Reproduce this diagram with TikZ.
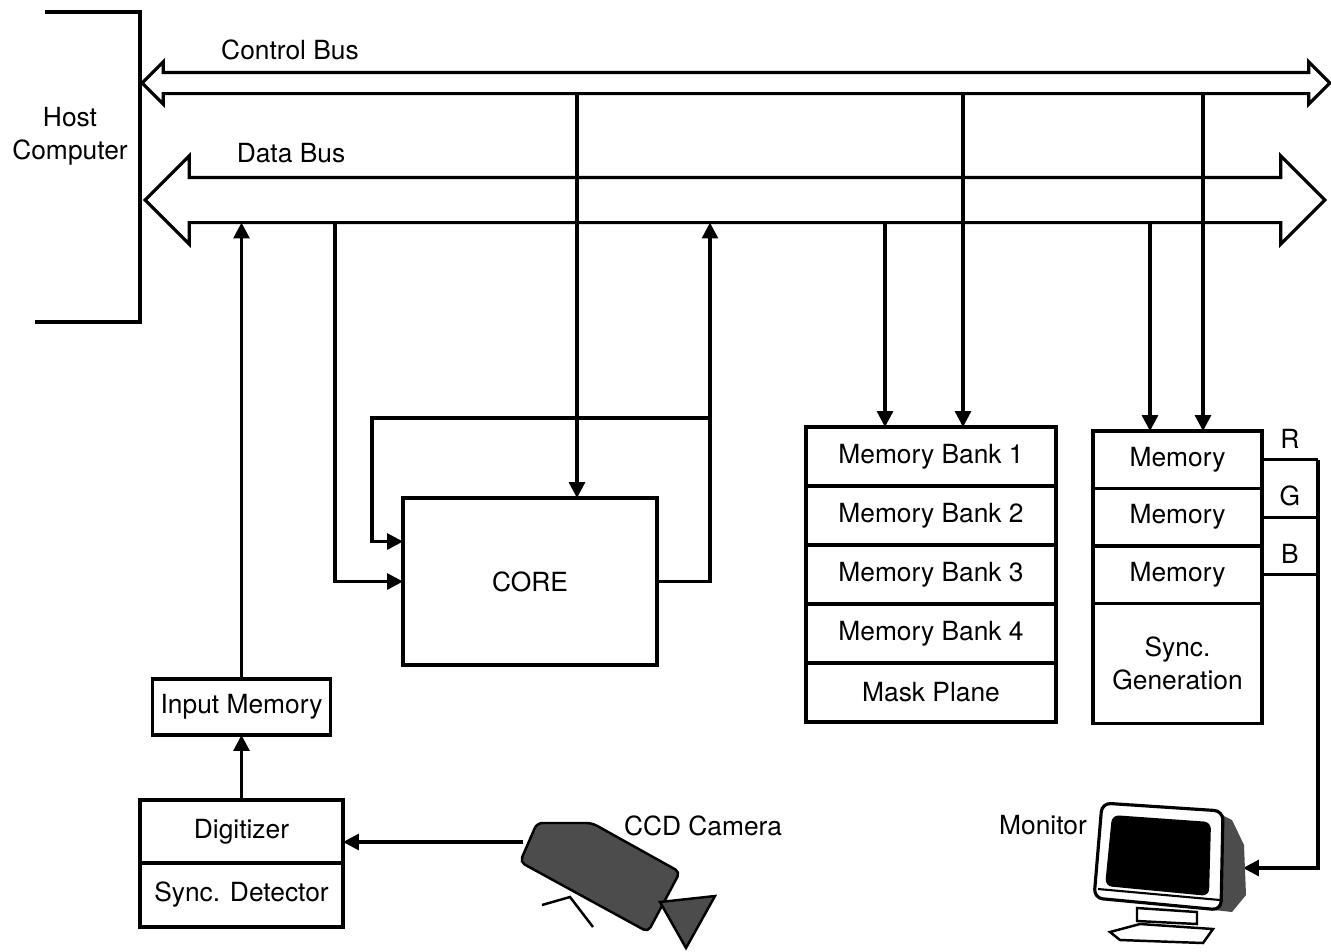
\documentclass[tikz,border=0pt]{standalone}
\usepackage{fontspec}
\setmainfont{TeX Gyre Heros}
\usetikzlibrary{shapes.arrows, arrows.meta, positioning, calc}

\begin{document}
\begin{tikzpicture}[
  x=0.02cm, y=-0.02cm,
  line width=1.8pt,
  font=\fontsize{15}{19}\selectfont,
  box/.style  = {draw, line width=1.8pt, fill=white, inner sep=0pt,
                 outer sep=0pt, align=center},
  bank/.style = {box, minimum width=5cm, minimum height=1.18cm},
  vid/.style  = {box, minimum width=3.38cm, minimum height=1.15cm},
  bus/.style  = {double arrow, draw, fill=white, line width=1.8pt,
                 inner xsep=0pt, outer sep=0pt, double arrow tip angle=90},
  arr/.style  = {-{Triangle[length=9pt, width=9pt]}, line width=1.8pt},
  lbl/.style  = {inner sep=1pt, align=center},
]
\useasboundingbox (0,0) rectangle (1331,951);

% Host side and the two buses
\draw (45,12) -| (140,322) -- (35,322);
\node[lbl] (host) at (70,136) {Host\\Computer};
\node[bus, minimum height=23.76cm, inner ysep=0.18cm,
      double arrow head extend=0.21cm] (cbus) at (736,83) {};
\node[bus, minimum height=23.6cm, inner ysep=0.42cm,
      double arrow head extend=0.43cm] (dbus) at (735,200) {};
\node[lbl] (cbuslbl) at (290,50) {Control Bus};
\node[lbl] (dbuslbl) at (291,153) {Data Bus};

% Processor
\node[box, minimum width=5.08cm, minimum height=3.34cm] (core) at (530,581.5) {CORE};

% Frame memory
\node[bank] (bank1) at (931,456.5) {Memory Bank 1};
\node[bank, below=0pt of bank1] (bank2) {Memory Bank 2};
\node[bank, below=0pt of bank2] (bank3) {Memory Bank 3};
\node[bank, below=0pt of bank3] (bank4) {Memory Bank 4};
\node[bank, below=0pt of bank4] (mask)  {Mask Plane};

% Display memory
\node[vid] (vmem1) at (1177.5,459.75) {Memory};
\node[vid, below=0pt of vmem1] (vmem2) {Memory};
\node[vid, below=0pt of vmem2] (vmem3) {Memory};
\node[vid, minimum height=2.4cm, below=0pt of vmem3] (syncgen) {Sync.\\Generation};

% Acquisition
\node[box, minimum width=4.06cm, minimum height=1.26cm] (digit) at (241.5,831.5) {Digitizer};
\node[box, minimum width=4.06cm, minimum height=1.28cm, below=0pt of digit] (syncdet) {Sync. Detector};
\node[box, minimum width=3.56cm, minimum height=1.12cm, above=1.3cm of digit] (inmem) {Input Memory};

% Bus taps
\coordinate (tapin)   at ([xshift=-1.36cm]core.west);
\coordinate (fbx)     at ([xshift=1.06cm]core.east);
\coordinate (fbtop)   at ([yshift=1.6cm]core.north);
\coordinate (fbin)    at ([yshift=0.8cm]core.west);
\coordinate (ctlcore) at ([xshift=0.94cm]core.north);
\coordinate (datbank) at ([xshift=-0.92cm]bank1.north);
\coordinate (ctlbank) at ([xshift=0.64cm]bank1.north);
\coordinate (datvid)  at ([xshift=-0.55cm]vmem1.north);
\coordinate (ctlvid)  at ([xshift=0.51cm]vmem1.north);
\coordinate (cable)   at ([xshift=1.12cm]vmem1.east);
\coordinate (camjack) at (523,842);
\coordinate (monin)   at (1243,868);

% Arrows
\draw[arr] (camjack) -- (camjack -| digit.east);
\draw[arr] (digit) -- (inmem);
\draw[arr] (inmem) -- (inmem |- dbus.south);
\draw[arr] (tapin |- dbus.south) |- (core.west);
\draw[arr] (core.east) -| (fbx |- dbus.south);
\draw[arr] (fbx |- fbtop) -| ([xshift=-0.62cm]fbin) -- (fbin);
\draw[arr] (ctlcore |- cbus.south) -- (ctlcore);
\draw[arr] (datbank |- dbus.south) -- (datbank);
\draw[arr] (ctlbank |- cbus.south) -- (ctlbank);
\draw[arr] (datvid |- dbus.south) -- (datvid);
\draw[arr] (ctlvid |- cbus.south) -- (ctlvid);

% RGB out to the monitor
\draw (vmem1.east) -- (vmem1.east -| cable) node[midway, above=2pt] {R};
\draw (vmem2.east) -- (vmem2.east -| cable) node[midway, above=2pt] {G};
\draw (vmem3.east) -- (vmem3.east -| cable) node[midway, above=2pt] {B};
\draw[arr] (vmem1.east -| cable) |- (monin);

% Camera
\filldraw[fill=black!70, draw=black, line width=1.4pt, rounded corners=3pt]
  (520,862) -- (537,823) -- (592,823) -- (680,872) -- (648,932) -- cycle;
\filldraw[fill=black!70, draw=black, line width=1.4pt]
  (660,902) -- (715,896) -- (686,948) -- cycle;
\draw[line width=1.4pt] (542,905) -- (570,897) -- (593,927);
\node[lbl] (camlbl) at (703,826) {CCD Camera};

% Monitor
\fill[black!70] (1212,810) -- (1232,820) -- (1244,845) -- (1246,895) -- (1232,912) -- (1214,910) -- cycle;
\draw[line width=1.4pt, fill=white] (1137,908) -- (1197,912) -- (1197,924) -- (1137,921) -- cycle;
\draw[line width=1.4pt, fill=white] (1110,932) -- (1140,924) -- (1213,929) -- (1203,943) -- (1120,940) -- cycle;
\draw[line width=1.8pt, fill=white, rounded corners=5pt]
  (1102,803) -- (1223,811) -- (1221,910) -- (1094,898) -- cycle;
\draw[line width=1.2pt] (1098,889) -- (1220,900);
\fill[black, rounded corners=4pt] (1112,815) -- (1211,822) -- (1209,896) -- (1105,886) -- cycle;
\node[lbl] (monlbl) at (1043,825) {Monitor};
\end{tikzpicture}
\end{document}
